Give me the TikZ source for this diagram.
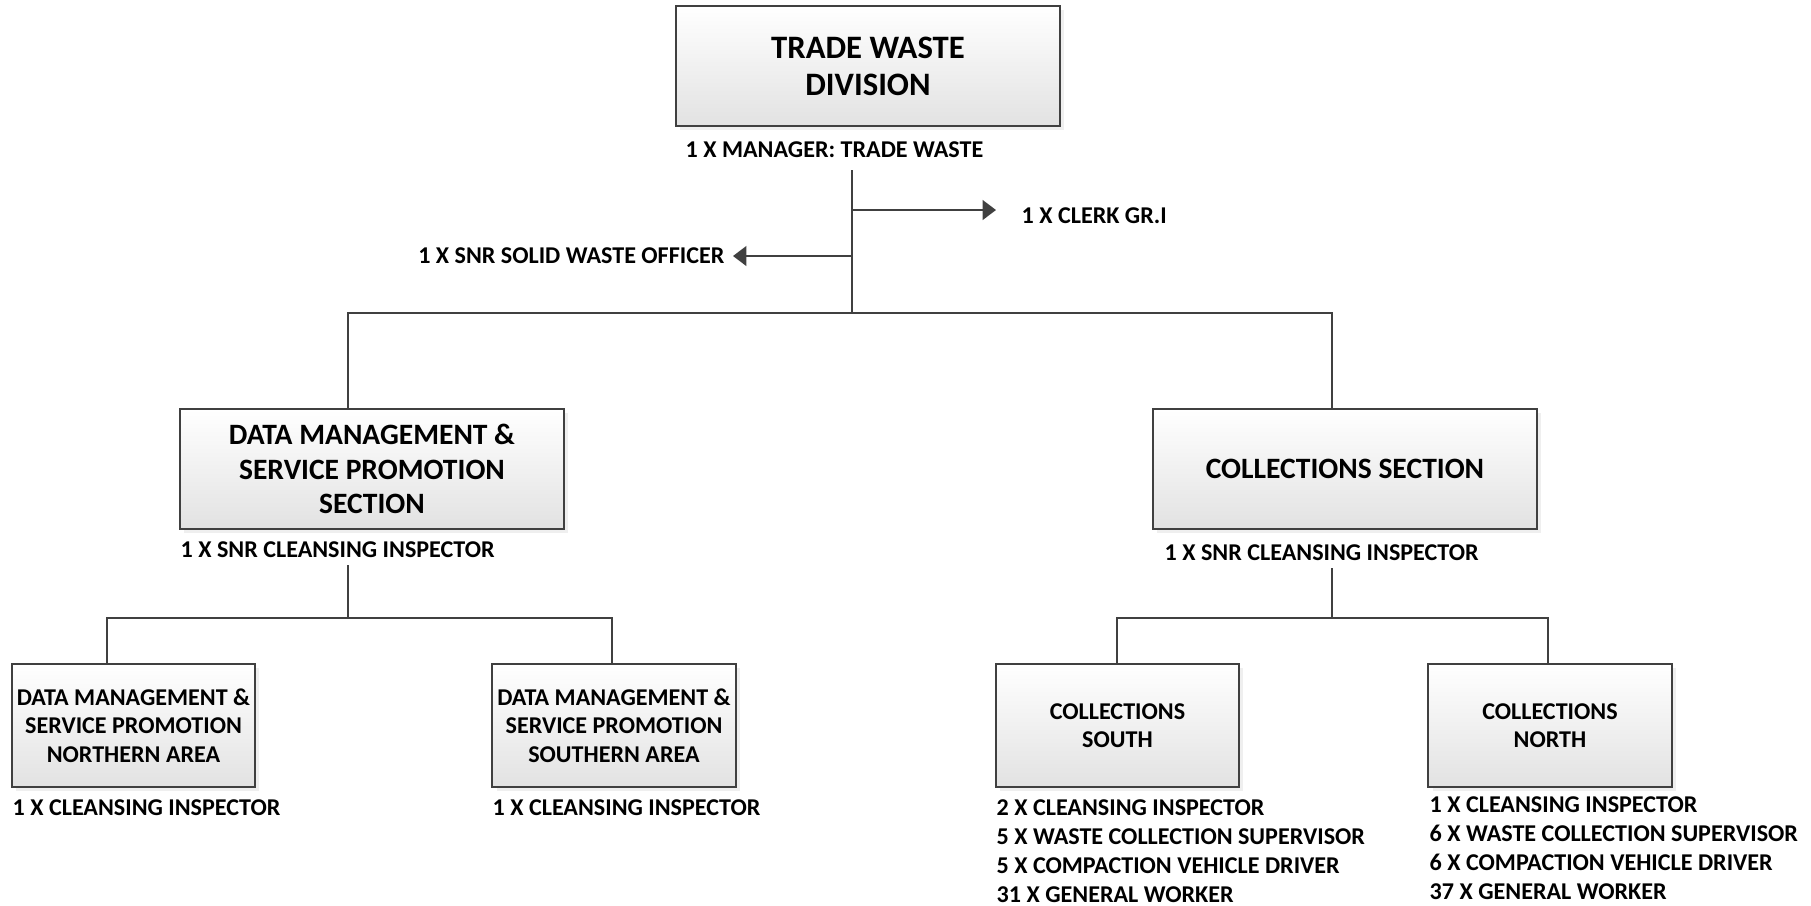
\documentclass[tikz,border=0pt]{standalone}
\usepackage{fontspec}
\setmainfont{Carlito}
\usetikzlibrary{arrows.meta,shadows}
\definecolor{linegray}{RGB}{64,64,64}
\definecolor{shadegray}{RGB}{226,226,226}

\begin{document}
\begin{tikzpicture}
  [x=0.01cm, y=-0.01cm,
   unit/.style={shape=rectangle, draw=linegray, line width=0.6pt,
     top color=white, bottom color=shadegray, align=center,
     drop shadow={shadow xshift=1.2pt, shadow yshift=-1.2pt, fill=black!12}},
   bigunit/.style={unit, minimum width=3.84cm, minimum height=1.2cm},
   smallunit/.style={unit, minimum width=2.43cm, minimum height=1.23cm,
     inner xsep=0.5pt, font=\bfseries\fontsize{6.85}{8.05}\selectfont},
   staff/.style={inner sep=0pt, anchor=west, align=left,
     font=\bfseries\fontsize{6.85}{8.25}\selectfont},
   link/.style={draw=linegray, line width=0.6pt},
   tip/.style={link, -{Triangle[length=3.8pt, width=5.6pt]}}]
  % Fix the page to the size of the reference
  \useasboundingbox (0,0) rectangle (1811,905);

  % Division at the top
  \node (division) at (868,66) [bigunit,
    font=\bfseries\fontsize{9.3}{10.5}\selectfont] {TRADE WASTE\\DIVISION};
  \node (manager) at (685,150) [staff] {1 X MANAGER: TRADE WASTE};
  \node (clerk) at (1021,216) [staff] {1 X CLERK GR.I};
  \node (officer) at (725,256) [staff, anchor=east] {1 X SNR SOLID WASTE OFFICER};

  % Main stem, side arrows and the bus to the sections
  \coordinate (stem) at (852,170);
  \coordinate (bus) at (852,313);
  \coordinate (clerkend) at (996,210);
  \coordinate (officerend) at (733,256);
  \draw [link] (stem) -- (bus);
  \draw [tip] (stem |- clerkend) -- (clerkend);
  \draw [tip] (stem |- officerend) -- (officerend);

  % The two sections
  \node (data) at (372,469) [bigunit,
    font=\bfseries\fontsize{8.4}{9.85}\selectfont]
    {DATA MANAGEMENT \&\\SERVICE PROMOTION\\SECTION};
  \node (collect) at (1345,469) [bigunit,
    font=\bfseries\fontsize{8.4}{9.85}\selectfont] {COLLECTIONS SECTION};
  \node (datastaff) at (180,550) [staff] {1 X SNR CLEANSING INSPECTOR};
  \node (collectstaff) at (1164,553) [staff] {1 X SNR CLEANSING INSPECTOR};
  \coordinate (busL) at (348,313);
  \coordinate (busR) at (1332,313);
  \draw [link] (busL |- data.north) -- (busL) -- (busR) -- (busR |- collect.north);

  % Units under the data section
  \node (northarea) at (133.5,725.5) [smallunit]
    {DATA MANAGEMENT \&\\SERVICE PROMOTION\\NORTHERN AREA};
  \node (southarea) at (614,725.5) [smallunit]
    {DATA MANAGEMENT \&\\SERVICE PROMOTION\\SOUTHERN AREA};
  \foreach \unit/\x in {northarea/12, southarea/492} {
    \node (\unit staff) at (\x,808) [staff] {1 X CLEANSING INSPECTOR};
  }
  \coordinate (dataL) at (107,618);
  \coordinate (dataR) at (612,618);
  \draw [link] (busL |- 0,565) -- (busL |- dataL);
  \draw [link] (northarea.north -| dataL) -- (dataL) -- (dataR) -- (southarea.north -| dataR);

  % Units under the collections section
  \node (south) at (1117.5,725.5) [smallunit] {COLLECTIONS\\SOUTH};
  \node (north) at (1550,725.5) [smallunit] {COLLECTIONS\\NORTH};
  \node (southstaff) at (996,851.5) [staff] {2 X CLEANSING INSPECTOR\\
    5 X WASTE COLLECTION SUPERVISOR\\5 X COMPACTION VEHICLE DRIVER\\
    31 X GENERAL WORKER};
  \node (northstaff) at (1429,848.5) [staff] {1 X CLEANSING INSPECTOR\\
    6 X WASTE COLLECTION SUPERVISOR\\6 X COMPACTION VEHICLE DRIVER\\
    37 X GENERAL WORKER};
  \coordinate (colL) at (1117,618);
  \coordinate (colR) at (1548,618);
  \draw [link] (busR |- 0,568) -- (busR |- colL);
  \draw [link] (south.north -| colL) -- (colL) -- (colR) -- (north.north -| colR);
\end{tikzpicture}
\end{document}
